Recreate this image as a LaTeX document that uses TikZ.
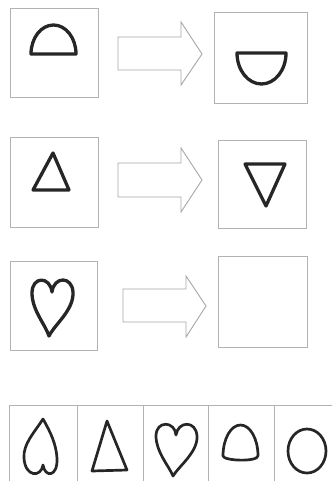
\documentclass[tikz,border=0pt]{standalone}
\usepackage{tikz}

\tikzset{
  frame/.style={draw=black!30, line width=0.9pt},
  bigarrow/.style={draw=black!35, line width=0.9pt},
  figure/.style={draw=black!85, line width=3.3pt, line join=round, line cap=round},
  smallfig/.style={draw=black!85, line width=2.7pt, line join=round, line cap=round}
}

\begin{document}
\begin{tikzpicture}[x=1pt, y=-1pt]
			\useasboundingbox (0,0) rectangle (332,481);
			\clip (0,0) rectangle (332,481);

			% Draw boxes of the three rows
			\draw[frame] (10,8) rectangle (98,97);
			\draw[frame] (214,12) rectangle (307,103);
			\draw[frame] (10,137) rectangle (98,227);
			\draw[frame] (218,140) rectangle (306,228);
			\draw[frame] (10,261) rectangle (97,350);
			\draw[frame] (218,256) rectangle (307,347);

			% Draw arrows
			\draw[bigarrow] (118,37) -- (181,37) -- (181,22) -- (202,54) -- (181,85) -- (181,70) -- (118,70) -- cycle;
			\draw[bigarrow] (118,163) -- (181,163) -- (181,148) -- (202,180) -- (181,212) -- (181,197) -- (118,197) -- cycle;
			\draw[bigarrow] (123,289) -- (186,289) -- (186,276) -- (206,306) -- (186,337) -- (186,322) -- (123,322) -- cycle;

			% Row 1: half disc, then turned over
			\draw[figure] (76,54) arc[start angle=0, end angle=-180, x radius=22.5, y radius=29] -- cycle;
			\draw[figure] (286,53) arc[start angle=0, end angle=180, x radius=24.5, y radius=31] -- cycle;

			% Row 2: triangle, then turned over
			\draw[figure] (53,153) -- (69,190) -- (33,190) -- cycle;
			\draw[figure] (245,164) -- (285,164) -- (266,206) -- cycle;

			% Row 3: heart
			\draw[figure] (52,292) .. controls (50,276) and (32,276) .. (32,293)
				.. controls (32,310) and (45,324) .. (49,336)
				.. controls (55,324) and (74,310) .. (73,292)
				.. controls (72,276) and (54,276) .. (52,292);

			% Draw answer strip
			\draw[frame] (9,405) rectangle (345,500);
			\foreach \xd in {77,143,208,274}
				\draw[frame] (\xd,405) -- (\xd,481);

			% Answer figures
			\draw[smallfig] (43,419) .. controls (34,433) and (23,444) .. (24,458)
				.. controls (25,477) and (41,478) .. (43,465)
				.. controls (45,478) and (58,477) .. (57,458)
				.. controls (56,444) and (51,433) .. (43,419);
			\draw[smallfig] (107,421) -- (127,470) -- (92,471) -- cycle;
			\draw[smallfig] (176,435) .. controls (175,421) and (156,420) .. (156,436)
				.. controls (156,452) and (169,466) .. (173,476)
				.. controls (179,466) and (198,452) .. (197,436)
				.. controls (196,420) and (178,421) .. (176,435);
			\draw[smallfig] (258,456) arc[start angle=0, end angle=-180, x radius=17.5, y radius=31]
				.. controls (224,461) and (257,462) .. (258,456);
			\draw[smallfig] (307,451) ellipse[x radius=19, y radius=22];
		\end{tikzpicture}
\end{document}
